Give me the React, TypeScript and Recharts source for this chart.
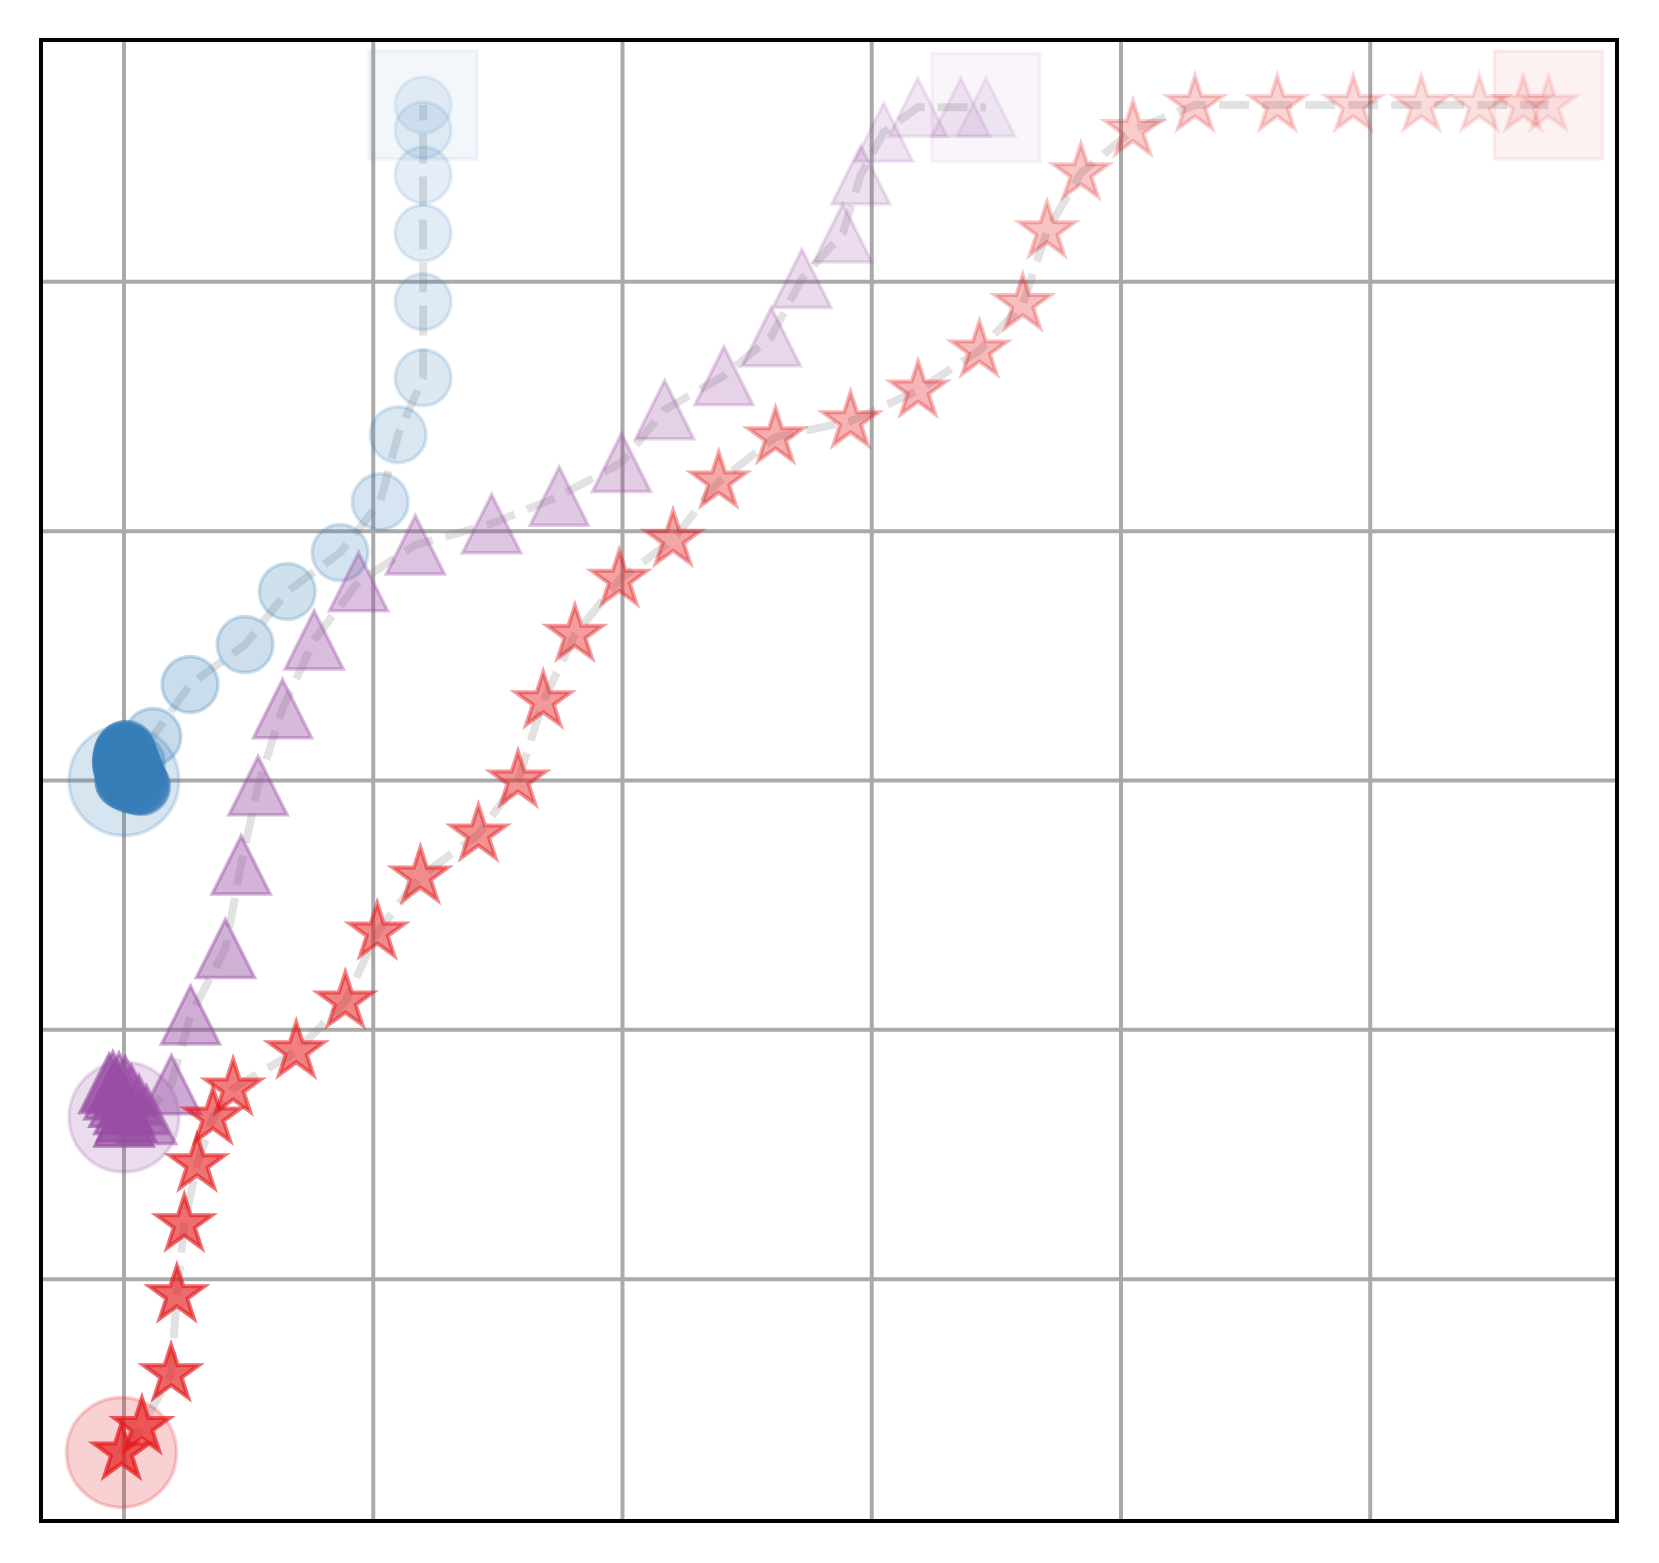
import React from 'react';
import { ScatterChart, Scatter, XAxis, YAxis, CartesianGrid, ReferenceArea } from 'recharts';

const xTicks = [0, 1, 2, 3, 4, 5];
const yTicks = [-2, -1, 0, 1, 2];
const xDomain: [number, number] = [-0.333, 5.99];
const yDomain: [number, number] = [-2.97, 2.97];

const bluePath: [number, number][] = [
  [0, 0], [0.005, 0.015], [0.002, 0.03], [-0.004, 0.045], [-0.008, 0.06], [-0.01, 0.075],
  [-0.008, 0.09], [-0.005, 0.105], [0.0, 0.118], [0.008, 0.124], [0.012, 0.11], [0.018, 0.095],
  [0.024, 0.08], [0.03, 0.065], [0.036, 0.05], [0.042, 0.035], [0.048, 0.02], [0.054, 0.005],
  [0.06, -0.01], [0.066, -0.02], [0.07, -0.024], [0.058, -0.02], [0.045, -0.018], [0.03, -0.015],
  [0.018, -0.01], [0.01, 0.0], [0.03, 0.03], [0.05, 0.07],
  [0.116, 0.176], [0.265, 0.385], [0.486, 0.545], [0.655, 0.758], [0.867, 0.914], [1.028, 1.118],
  [1.1, 1.387], [1.2, 1.615], [1.2, 1.92], [1.2, 2.196], [1.2, 2.429], [1.2, 2.609], [1.2, 2.709],
];

const purplePath: [number, number][] = [
  [0, -1.35], [0.01, -1.33], [0.0, -1.3], [-0.02, -1.27], [-0.04, -1.24], [-0.06, -1.215],
  [-0.045, -1.205], [-0.02, -1.21], [0.005, -1.225], [0.03, -1.26], [0.06, -1.3], [0.09, -1.34],
  [0.19, -1.22], [0.267, -0.941], [0.407, -0.674], [0.47, -0.339], [0.538, -0.021], [0.636, 0.288],
  [0.763, 0.564], [0.941, 0.797], [1.169, 0.945], [1.475, 1.03], [1.746, 1.14], [1.996, 1.275],
  [2.169, 1.487], [2.407, 1.623], [2.597, 1.78], [2.72, 2.013], [2.884, 2.196], [2.956, 2.429],
  [3.048, 2.6], [3.185, 2.7], [3.357, 2.7], [3.458, 2.7],
];

const redPath: [number, number][] = [
  [-0.01, -2.695], [0.072, -2.593], [0.189, -2.381], [0.212, -2.064], [0.242, -1.78], [0.293, -1.539],
  [0.357, -1.351], [0.438, -1.235], [0.691, -1.086], [0.888, -0.886], [1.016, -0.609], [1.189, -0.385],
  [1.422, -0.216], [1.581, 0.0], [1.682, 0.318], [1.809, 0.585], [1.987, 0.805], [2.203, 0.966],
  [2.386, 1.199], [2.614, 1.377], [2.915, 1.441], [3.186, 1.564], [3.432, 1.725], [3.606, 1.911],
  [3.703, 2.203], [3.839, 2.436], [4.048, 2.609], [4.297, 2.709], [4.627, 2.709], [4.932, 2.709],
  [5.205, 2.709], [5.438, 2.709], [5.614, 2.709], [5.715, 2.709],
];

const BLUE = '#377eb8';
const PURPLE = '#984ea3';
const RED = '#e41a1c';

type Row = { x: number; y: number; i: number; n: number };
const toRows = (pts: [number, number][]): Row[] =>
  pts.map(([x, y], i) => ({ x, y, i, n: pts.length }));

const blueRows = toRows(bluePath);
const purpleRows = toRows(purplePath);
const redRows = toRows(redPath);

const alphaAt = (i: number, n: number) => 0.1 + 0.6 * (1 - i / (n - 1));

const starPoints = (cx: number, cy: number, R: number) => {
  const r = R * 0.382;
  const pts: string[] = [];
  for (let k = 0; k < 10; k++) {
    const ang = -Math.PI / 2 + (k * Math.PI) / 5;
    const rr = k % 2 === 0 ? R : r;
    pts.push(`${cx + rr * Math.cos(ang)},${cy + rr * Math.sin(ang)}`);
  }
  return pts.join(' ');
};

const circleShape = (color: string) => (props: any) => {
  const { cx, cy, payload } = props;
  const a = alphaAt(payload.i, payload.n);
  return (
    <circle cx={cx} cy={cy} r={28} fill={color} fillOpacity={a} stroke={color} strokeOpacity={a} strokeWidth={3.5} />
  );
};

const triangleShape = (color: string) => (props: any) => {
  const { cx, cy, payload } = props;
  const a = alphaAt(payload.i, payload.n);
  const s = 29;
  return (
    <polygon
      points={`${cx},${cy - s} ${cx - s},${cy + s} ${cx + s},${cy + s}`}
      fill={color}
      fillOpacity={a}
      stroke={color}
      strokeOpacity={a}
      strokeWidth={3.5}
      strokeLinejoin="miter"
    />
  );
};

const starShape = (color: string) => (props: any) => {
  const { cx, cy, payload } = props;
  const a = alphaAt(payload.i, payload.n);
  return (
    <polygon
      points={starPoints(cx, cy, 29)}
      fill={color}
      fillOpacity={a}
      stroke={color}
      strokeOpacity={a}
      strokeWidth={4}
      strokeLinejoin="miter"
    />
  );
};

const startShape = (color: string) => (props: any) => {
  const { cx, cy } = props;
  return (
    <circle cx={cx} cy={cy} r={55} fill={color} fillOpacity={0.2} stroke={color} strokeOpacity={0.2} strokeWidth={3.5} />
  );
};

const endShape = (color: string) => (props: any) => {
  const { cx, cy } = props;
  const h = 54;
  return (
    <rect x={cx - h} y={cy - h} width={2 * h} height={2 * h} fill={color} fillOpacity={0.06} stroke={color} strokeOpacity={0.07} strokeWidth={3.5} />
  );
};

const noShape = () => <g />;

const dashLine = { stroke: '#808080', strokeOpacity: 0.23, strokeWidth: 8, strokeDasharray: '30 13', fill: 'none' };

const vGen = (args: any) => {
  const sc = args?.xAxis?.scale;
  if (!sc) return [];
  const f = typeof sc === 'function' ? sc : sc.map ? (v: number) => sc.map(v) : null;
  return f ? xTicks.map((t) => f(t)) : [];
};
const hGen = (args: any) => {
  const sc = args?.yAxis?.scale;
  if (!sc) return [];
  const f = typeof sc === 'function' ? sc : sc.map ? (v: number) => sc.map(v) : null;
  return f ? yTicks.map((t) => f(t)) : [];
};

export default function App() {
  const series = [
    { rows: blueRows, color: BLUE, mark: circleShape(BLUE) },
    { rows: purpleRows, color: PURPLE, mark: triangleShape(PURPLE) },
    { rows: redRows, color: RED, mark: starShape(RED) },
  ];
  return (
    <div style={{ width: 1643, height: 1547 }}>
      <ScatterChart width={1643} height={1547} margin={{ top: 32, right: 34, bottom: 34, left: 33 }}>
        <XAxis
          type="number"
          dataKey="x"
          domain={xDomain}
          ticks={xTicks}
          allowDataOverflow
          tick={false}
          tickLine={false}
          axisLine={false}
          height={0}
        />
        <YAxis
          type="number"
          dataKey="y"
          domain={yDomain}
          ticks={yTicks}
          allowDataOverflow
          tick={false}
          tickLine={false}
          axisLine={false}
          width={0}
        />
        <CartesianGrid
          stroke="#aaaaaa"
          strokeWidth={4}
          verticalCoordinatesGenerator={vGen}
          horizontalCoordinatesGenerator={hGen}
        />
        {series.map((s, k) => (
          <Scatter
            key={`line-${k}`}
            data={s.rows}
            line={dashLine}
            lineType="joint"
            shape={noShape}
            isAnimationActive={false}
          />
        ))}
        {series.map((s, k) => (
          <Scatter key={`start-${k}`} data={[s.rows[0]]} shape={startShape(s.color)} isAnimationActive={false} />
        ))}
        {series.map((s, k) => (
          <Scatter key={`end-${k}`} data={[s.rows[s.rows.length - 1]]} shape={endShape(s.color)} isAnimationActive={false} />
        ))}
        {series.map((s, k) => (
          <Scatter key={`mark-${k}`} data={s.rows} shape={s.mark} isAnimationActive={false} />
        ))}
        <ReferenceArea
          x1={xDomain[0]}
          x2={xDomain[1]}
          y1={yDomain[0]}
          y2={yDomain[1]}
          fill="none"
          fillOpacity={0}
          stroke="#000000"
          strokeWidth={4}
          ifOverflow="visible"
        />
      </ScatterChart>
    </div>
  );
}
